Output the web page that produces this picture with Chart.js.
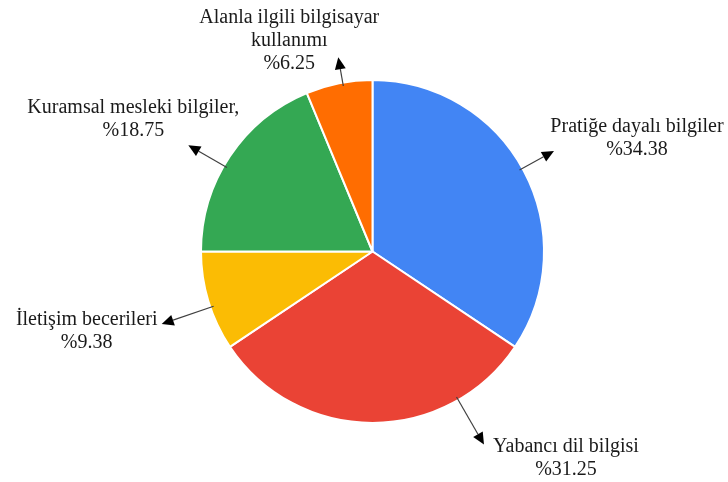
<!DOCTYPE html>
<html>
<head>
<meta charset="utf-8">
<script src="https://cdn.jsdelivr.net/npm/chart.js@4.4.1/dist/chart.umd.min.js"></script>
<style>
  html, body { margin: 0; padding: 0; background: #fff; }
  #wrap { width: 728px; height: 482px; position: relative; }
</style>
</head>
<body>
<div id="wrap"><canvas id="pie"></canvas></div>
<script>
const categories = [
    ["Pratiğe dayalı bilgiler"],
    ["Yabancı dil bilgisi"],
    ["İletişim becerileri"],
    ["Kuramsal mesleki bilgiler,"],
    ["Alanla ilgili bilgisayar", "kullanımı"]
];
const shares = [34.38, 31.25, 9.38, 18.75, 6.25];
const sliceColors = ["#4285F4", "#EA4335", "#FBBC04", "#34A853", "#FF6D01"];

// callout placement per slice: arrow angle (deg from top, clockwise),
// arrow tip distance as multiple of radius, first text line offset from the tip
const callouts = [
    { angle: 61, tip: 1.21, dx: 83, dy: -24 },
    { angle: 150, tip: 1.30, dx: 82, dy: 2 },
    { angle: 251, tip: 1.30, dx: -75, dy: -4 },
    { angle: 300, tip: 1.24, dx: -55, dy: -37 },
    { angle: 350, tip: 1.15, dx: -49, dy: -40 }
];

const calloutPlugin = {
    id: "callouts",
    afterDatasetsDraw(chart) {
        const ctx = chart.ctx;
        const arcs = chart.getDatasetMeta(0).data;
        ctx.save();
        arcs.forEach((arc, i) => {
            const c = callouts[i];
            const cx = arc.x, cy = arc.y, r = arc.outerRadius;
            const a = (c.angle - 90) * Math.PI / 180;
            const x0 = cx + Math.cos(a) * r * 0.98, y0 = cy + Math.sin(a) * r * 0.98;
            const x1 = cx + Math.cos(a) * r * c.tip, y1 = cy + Math.sin(a) * r * c.tip;

            // line
            const head = 12;
            const bx = x1 - Math.cos(a) * head, by = y1 - Math.sin(a) * head;
            ctx.strokeStyle = "#404040";
            ctx.lineWidth = 1.2;
            ctx.beginPath();
            ctx.moveTo(x0, y0);
            ctx.lineTo(bx, by);
            ctx.stroke();

            // arrow head
            const px = -Math.sin(a) * 5.5, py = Math.cos(a) * 5.5;
            ctx.fillStyle = "#000";
            ctx.beginPath();
            ctx.moveTo(x1, y1);
            ctx.lineTo(bx + px, by + py);
            ctx.lineTo(bx - px, by - py);
            ctx.closePath();
            ctx.fill();

            // text
            const lines = categories[i].concat(["%" + shares[i].toFixed(2)]);
            ctx.font = "20px 'Liberation Serif', 'Times New Roman', serif";
            ctx.fillStyle = "#1a1a1a";
            ctx.textAlign = "center";
            ctx.textBaseline = "middle";
            const lh = 23;
            const tx = x1 + c.dx;
            const ty0 = y1 + c.dy;
            lines.forEach((t, k) => ctx.fillText(t, tx, ty0 + k * lh));
        });
        ctx.restore();
    }
};

new Chart(document.getElementById("pie"), {
    type: "pie",
    data: {
        labels: categories.map(c => c.join(" ")),
        datasets: [{
            data: shares,
            backgroundColor: sliceColors,
            borderColor: "#ffffff",
            borderWidth: 2
        }]
    },
    options: {
        responsive: true,
        maintainAspectRatio: false,
        animation: false,
        layout: { padding: { left: 200, right: 183, top: 79, bottom: 58 } },
        plugins: {
            legend: { display: false },
            tooltip: { enabled: false }
        }
    },
    plugins: [calloutPlugin]
});
</script>
</body>
</html>
